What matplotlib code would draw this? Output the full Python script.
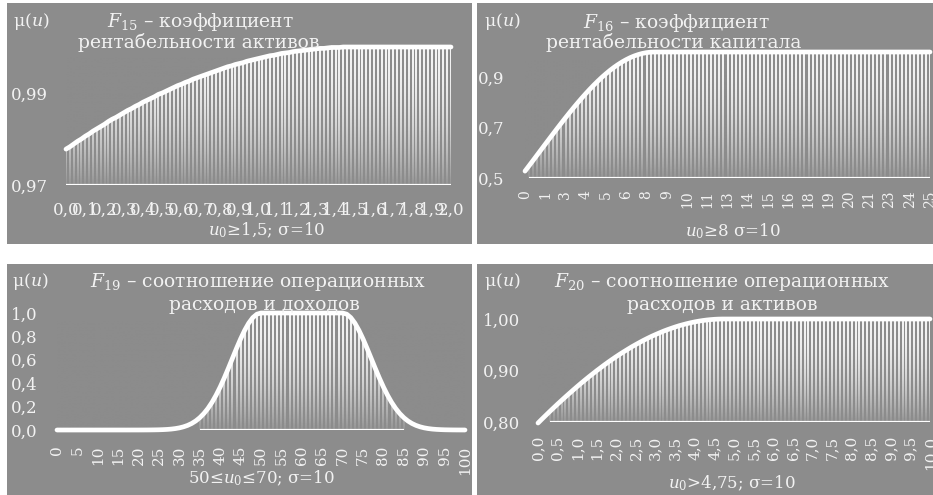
import numpy as np
import matplotlib
matplotlib.use("Agg")
import matplotlib.pyplot as plt
from matplotlib.patches import Rectangle
from matplotlib.colors import to_rgb

plt.rcParams['font.family'] = ['DejaVu Serif', 'DejaVu Sans']
plt.rcParams['mathtext.fontset'] = 'dejavuserif'

W, H = 933, 495
BG = '#8c8c8c'
FG = '#f2f2f2'

# ---------------- data ----------------
f15 = [0.9778, 0.9783, 0.9789, 0.9795, 0.9800, 0.9806, 0.9811, 0.9817, 0.9822, 0.9827,
       0.9832, 0.9838, 0.9843, 0.9847, 0.9852, 0.9857, 0.9862, 0.9866, 0.9871, 0.9875,
       0.9880, 0.9884, 0.9888, 0.9892, 0.9897, 0.9900, 0.9904, 0.9908, 0.9912, 0.9916,
       0.9919, 0.9923, 0.9926, 0.9930, 0.9933, 0.9936, 0.9939, 0.9942, 0.9945, 0.9948,
       0.9951, 0.9954, 0.9957, 0.9959, 0.9962, 0.9964, 0.9966, 0.9969, 0.9971, 0.9973,
       0.9975, 0.9977, 0.9979, 0.9981, 0.9982, 0.9984, 0.9986, 0.9987, 0.9988, 0.9990,
       0.9991, 0.9992, 0.9993, 0.9994, 0.9995, 0.9996, 0.9997, 0.9997, 0.9998, 0.9999,
       0.9999, 0.9999, 1.0, 1.0, 1.0, 1.0,
       1.0, 1.0, 1.0, 1.0, 1.0, 1.0, 1.0, 1.0, 1.0, 1.0,
       1.0, 1.0, 1.0, 1.0, 1.0, 1.0, 1.0, 1.0, 1.0, 1.0,
       1.0, 1.0, 1.0, 1.0, 1.0]
f15_labels = ["0,0", "0,1", "0,2", "0,3", "0,4", "0,5", "0,6", "0,7", "0,8", "0,9", "1,0",
              "1,1", "1,2", "1,3", "1,4", "1,5", "1,6", "1,7", "1,8", "1,9", "2,0"]

f16 = [0.5273, 0.5485, 0.5698, 0.5912, 0.6126, 0.6341, 0.6554, 0.6766, 0.6977, 0.7185,
       0.7390, 0.7591, 0.7788, 0.7980, 0.8167, 0.8348, 0.8521, 0.8688, 0.8847, 0.8998,
       0.9139, 0.9272, 0.9394, 0.9506, 0.9608, 0.9698, 0.9778, 0.9845, 0.9900, 0.9944,
       0.9975, 0.9994, 1.0,
       1.0, 1.0, 1.0, 1.0, 1.0, 1.0, 1.0, 1.0, 1.0, 1.0,
       1.0, 1.0, 1.0, 1.0, 1.0, 1.0, 1.0, 1.0, 1.0, 1.0,
       1.0, 1.0, 1.0, 1.0, 1.0, 1.0, 1.0, 1.0, 1.0, 1.0,
       1.0, 1.0, 1.0, 1.0, 1.0, 1.0, 1.0, 1.0, 1.0, 1.0,
       1.0, 1.0, 1.0, 1.0, 1.0, 1.0, 1.0, 1.0, 1.0, 1.0,
       1.0, 1.0, 1.0, 1.0, 1.0, 1.0, 1.0, 1.0, 1.0, 1.0,
       1.0, 1.0, 1.0, 1.0, 1.0, 1.0, 1.0, 1.0]
f16_labels = ["0", "1", "3", "4", "5", "6", "8", "9", "10", "11", "13",
              "14", "15", "16", "18", "19", "20", "21", "23", "24", "25"]

f19 = [0.0, 0.0, 0.0, 0.0, 0.0, 0.0, 0.0, 0.0, 0.0, 0.0,
       0.0, 0.0, 0.0, 0.0, 0.0, 0.0, 0.0, 0.0, 0.0, 0.0001,
       0.0001, 0.0002, 0.0004, 0.0007, 0.0012, 0.0019, 0.0032, 0.0050, 0.0079, 0.0122,
       0.0183, 0.0271, 0.0392, 0.0556, 0.0773, 0.1054, 0.1409, 0.1845, 0.2369, 0.2982,
       0.3679, 0.4449, 0.5273, 0.6126, 0.6977, 0.7788, 0.8521, 0.9139, 0.9608, 0.9900,
       1.0, 1.0, 1.0, 1.0, 1.0, 1.0, 1.0, 1.0, 1.0, 1.0,
       1.0, 1.0, 1.0, 1.0, 1.0, 1.0, 1.0, 1.0, 1.0, 1.0, 1.0,
       0.9900, 0.9608, 0.9139, 0.8521, 0.7788, 0.6977, 0.6126, 0.5273, 0.4449, 0.3679,
       0.2982, 0.2369, 0.1845, 0.1409, 0.1054, 0.0773, 0.0556, 0.0392, 0.0271, 0.0183,
       0.0122, 0.0079, 0.0050, 0.0032, 0.0019, 0.0012, 0.0007, 0.0004, 0.0002, 0.0001]
f19_labels = ["0", "5", "10", "15", "20", "25", "30", "35", "40", "45", "50",
              "55", "60", "65", "70", "75", "80", "85", "90", "95", "100"]

f20 = [0.7980, 0.8056, 0.8130, 0.8204, 0.8276, 0.8348, 0.8418, 0.8487, 0.8555, 0.8622,
       0.8688, 0.8753, 0.8816, 0.8878, 0.8938, 0.8998, 0.9055, 0.9112, 0.9167, 0.9220,
       0.9272, 0.9322, 0.9370, 0.9417, 0.9463, 0.9506, 0.9548, 0.9589, 0.9627, 0.9664,
       0.9698, 0.9731, 0.9763, 0.9792, 0.9819, 0.9845, 0.9869, 0.9890, 0.9910, 0.9928,
       0.9944, 0.9958, 0.9970, 0.9980, 0.9988, 0.9994, 0.9998, 1.0,
       1.0, 1.0, 1.0, 1.0, 1.0, 1.0, 1.0, 1.0, 1.0, 1.0,
       1.0, 1.0, 1.0, 1.0, 1.0, 1.0, 1.0, 1.0, 1.0, 1.0,
       1.0, 1.0, 1.0, 1.0, 1.0, 1.0, 1.0, 1.0, 1.0, 1.0,
       1.0, 1.0, 1.0, 1.0, 1.0, 1.0, 1.0, 1.0, 1.0, 1.0,
       1.0, 1.0, 1.0, 1.0, 1.0, 1.0, 1.0, 1.0, 1.0, 1.0,
       1.0, 1.0, 1.0]
f20_labels = ["0,0", "0,5", "1,0", "1,5", "2,0", "2,5", "3,0", "3,5", "4,0", "4,5", "5,0",
              "5,5", "6,0", "6,5", "7,0", "7,5", "8,0", "8,5", "9,0", "9,5", "10,0"]

# ---------------- figure ----------------
fig = plt.figure(figsize=(W / 100, H / 100), dpi=100)
fig.patch.set_facecolor('white')


def panel_bg(x0, y0, x1, y1):
    fig.add_artist(Rectangle((x0 / W, 1 - y1 / H), (x1 - x0) / W, (y1 - y0) / H,
                             transform=fig.transFigure, facecolor=BG,
                             edgecolor='none', zorder=0))


def make_ax(x0, x1, ytop, ybot):
    ax = fig.add_axes([x0 / W, 1 - ybot / H, (x1 - x0) / W, (ybot - ytop) / H])
    ax.patch.set_visible(False)
    for s in ax.spines.values():
        s.set_visible(False)
    return ax


def draw(ax, vals, ymin, ymax, yticks, ylabels, xlabels, xrot, xfs, xpad, ypad):
    v = np.array(vals)
    x = np.arange(len(v))
    mask = (v - ymin) / (ymax - ymin) >= 0.09
    xs = x[mask]
    ax.vlines(xs, ymin, v[mask], colors='white', linewidth=1.3, zorder=1)
    t = np.linspace(0, 1, 256)[:, None]
    grad = np.zeros((256, 1, 4))
    grad[..., :3] = to_rgb(BG)
    grad[..., 3] = 0.93 * t ** 2.0
    ax.imshow(grad, extent=[0, 1, 0, 1], transform=ax.transAxes, aspect='auto',
              zorder=2, interpolation='bilinear')
    ax.hlines(ymin, xs[0], xs[-1], colors='white', linewidth=1.6, zorder=3)
    ax.plot(x, v, color='white', lw=3.4, zorder=4, clip_on=False,
            solid_capstyle='round', solid_joinstyle='round')
    ax.set_xlim(0, len(v) - 1)
    ax.set_ylim(ymin, ymax)
    ax.set_xticks(x[::5])
    ax.set_xticklabels(xlabels, rotation=xrot, fontsize=xfs, color=FG)
    ax.set_yticks(yticks)
    ax.set_yticklabels(ylabels, fontsize=12, color=FG)
    ax.tick_params(axis='both', length=0)
    ax.tick_params(axis='x', pad=xpad)
    ax.tick_params(axis='y', pad=ypad)


def T(x, y, s, fs, **kw):
    fig.text(x / W, 1 - y / H, s, fontsize=fs, color=FG, ha='center', va='center', **kw)


# backgrounds
panel_bg(7, 3, 472, 244)
panel_bg(477, 3, 933, 244)
panel_bg(7, 264, 472, 495)
panel_bg(477, 264, 933, 495)

ax1 = make_ax(66, 451, 47, 185)
draw(ax1, f15, 0.97, 1.0, [0.97, 0.99], ["0,97", "0,99"], f15_labels, 0, 12, 12, 13)

ax2 = make_ax(525, 930, 52, 178)
draw(ax2, f16, 0.5, 1.0, [0.5, 0.7, 0.9], ["0,5", "0,7", "0,9"], f16_labels, 90, 10, 9, 15)

ax3 = make_ax(57, 465, 313, 430)
draw(ax3, f19, 0.0, 1.0, [0.0, 0.2, 0.4, 0.6, 0.8, 1.0],
     ["0,0", "0,2", "0,4", "0,6", "0,8", "1,0"], f19_labels, 90, 11, 11, 14)

ax4 = make_ax(538, 930, 319, 422)
draw(ax4, f20, 0.8, 1.0, [0.8, 0.9, 1.0], ["0,80", "0,90", "1,00"], f20_labels, 90, 11, 10, 13)

# axis names
T(31, 21, "μ($u$)", 12.5)
T(502, 22, "μ($u$)", 12.5)
T(30, 281, "μ($u$)", 12.5)
T(502, 282, "μ($u$)", 12.5)

# titles
T(200, 22, "$F_{15}$ – коэффициент", 13.5)
T(199, 42, "рентабельности активов", 13.5)
T(676, 23, "$F_{16}$ – коэффициент", 13.5)
T(674, 43, "рентабельности капитала", 13.5)
T(258, 282, "$F_{19}$ – соотношение операционных", 13.5)
T(264, 305, "расходов и доходов", 13.5)
T(722, 282, "$F_{20}$ – соотношение операционных", 13.5)
T(722, 305, "расходов и активов", 13.5)

# parameter captions
T(267, 230, "$u_0$≥1,5; σ=10", 12)
T(733, 231, "$u_0$≥8 σ=10", 12)
T(261, 478, "50≤$u_0$≤70; σ=10", 12)
T(732, 483, "$u_0$>4,75; σ=10", 12)

fig.savefig("out.png", dpi=100, facecolor='white')
